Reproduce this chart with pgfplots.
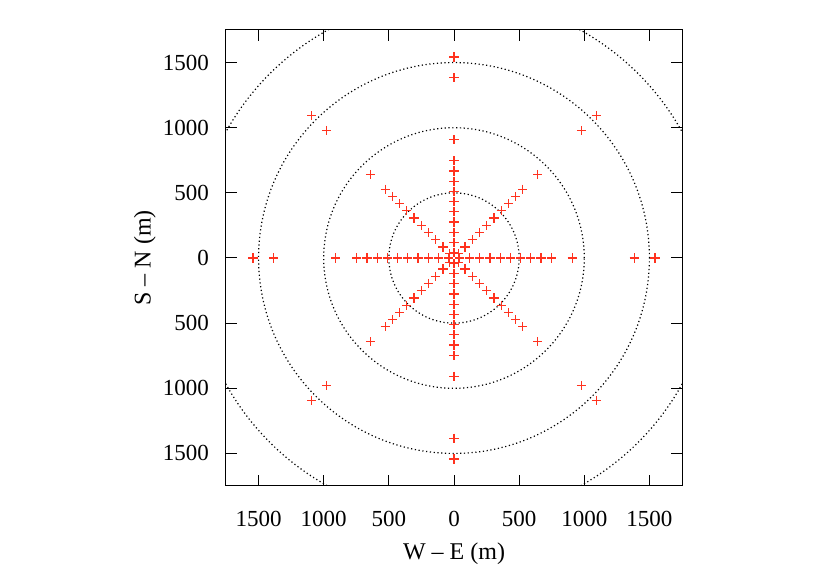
\documentclass[border=0pt]{standalone}
\usepackage{fontspec}
\setmainfont{Liberation Serif}
\usepackage{pgfplots}
\pgfplotsset{compat=1.18}
\usepackage{pgfplotstable}
\definecolor{antred}{RGB}{255,50,30}
\pgfplotstableread{
x y
120 0
198 0
276 0
354 0
434 0
512 0
590 0
668 0
746 0
908 0
1384 0
1543 0
-120 0
-198 0
-276 0
-354 0
-434 0
-512 0
-590 0
-668 0
-746 0
-908 0
-1384 0
-1543 0
0 120
0 198
0 276
0 354
0 434
0 512
0 590
0 668
0 746
0 908
0 1384
0 1543
0 -120
0 -198
0 -276
0 -354
0 -434
0 -512
0 -590
0 -668
0 -746
0 -908
0 -1384
0 -1543
84.9 84.9
140 140
195.2 195.2
250.3 250.3
306.9 306.9
362 362
417.2 417.2
472.3 472.3
527.5 527.5
642 642
978.6 978.6
1091 1091
-84.9 84.9
-140 140
-195.2 195.2
-250.3 250.3
-306.9 306.9
-362 362
-417.2 417.2
-472.3 472.3
-527.5 527.5
-642 642
-978.6 978.6
-1091 1091
84.9 -84.9
140 -140
195.2 -195.2
250.3 -250.3
306.9 -306.9
362 -362
417.2 -417.2
472.3 -472.3
527.5 -527.5
642 -642
978.6 -978.6
1091 -1091
-84.9 -84.9
-140 -140
-195.2 -195.2
-250.3 -250.3
-306.9 -306.9
-362 -362
-417.2 -417.2
-472.3 -472.3
-527.5 -527.5
-642 -642
-978.6 -978.6
-1091 -1091
45 0
31.8 31.8
0 45
-31.8 31.8
-45 0
-31.8 -31.8
0 -45
31.8 -31.8
}\stations
\begin{document}
\begin{tikzpicture}
\useasboundingbox (-113pt,-48.5pt) rectangle (302pt,243pt);
\begin{axis}[
  at={(0,0)}, anchor=south west,
  width=228pt, height=228pt, scale only axis,
  xmin=-1750, xmax=1750, ymin=-1750, ymax=1750,
  xtick={-1500,-1000,-500,0,500,1000,1500},
  ytick={-1500,-1000,-500,0,500,1000,1500},
  xticklabels={1500,1000,500,0,500,1000,1500},
  yticklabels={1500,1000,500,0,500,1000,1500},
  tick align=inside, major tick length=5.5pt,
  tick style={black, line width=0.5pt},
  axis line style={black, line width=0.5pt},
  ticklabel style={font=\fontsize{11.5}{13}\selectfont},
  label style={font=\fontsize{12}{14}\selectfont},
  xticklabel style={yshift=-9pt},
  yticklabel style={xshift=-5pt},
  xlabel={W -- E (m)}, ylabel={S -- N (m)},
  xlabel style={at={(axis description cs:0.5,-0.148)}, anchor=center},
  ylabel style={at={(axis description cs:-0.178,0.5)}, anchor=center, rotate=0},
  clip=true,
]
\draw[black, line width=0.6pt, dash pattern=on 0.6pt off 1.3pt] (axis cs:0,0) circle[radius=500];
\draw[black, line width=0.6pt, dash pattern=on 0.6pt off 1.3pt] (axis cs:0,0) circle[radius=1000];
\draw[black, line width=0.6pt, dash pattern=on 0.6pt off 1.3pt] (axis cs:0,0) circle[radius=1500];
\draw[black, line width=0.6pt, dash pattern=on 0.6pt off 1.3pt] (axis cs:0,0) circle[radius=2000];
\addplot[only marks, mark=+, mark size=2.3pt, antred, mark options={line width=0.6pt}] table[x=x, y=y] {\stations};
\end{axis}
\end{tikzpicture}
\end{document}
